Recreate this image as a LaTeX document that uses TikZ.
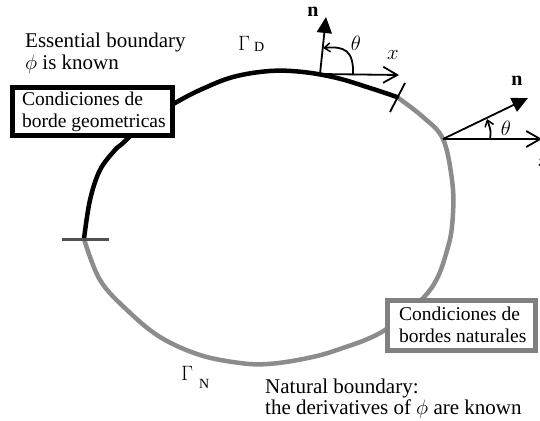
\documentclass[tikz,border=0pt]{standalone}
\usepackage{fontspec}
\setmainfont{Liberation Serif}
\newfontfamily\tnr{Liberation Serif}
\usetikzlibrary{arrows.meta}
\newcommand{\fsz}[1]{\tnr\fontsize{#1}{#1}\selectfont}
\begin{document}
\begin{tikzpicture}[x=1pt,y=-1pt,
  blackbd/.style={line width=4.5pt, black, line cap=round},
  graybd/.style={line width=4.5pt, color={rgb,255:red,140;green,140;blue,140}, line cap=round},
  thinline/.style={line width=1.8pt, black},
  filltip/.style={-{Triangle[width=15pt,length=16pt]}},
  opentip/.style={-{Straight Barb[length=14pt,width=16pt,line width=1.8pt]}},
  smalltip/.style={-{Straight Barb[length=6pt,width=9pt,line width=1.5pt]}},
  lbl/.style={inner sep=0pt, anchor=base west, font=\fsz{21}},
  sym/.style={inner sep=0pt, font=\fsz{20}},
  boxtxt/.style={inner sep=0pt, align=left, font=\tnr\fontsize{19.5}{22}\selectfont}
]
\useasboundingbox[fill=white] (0,0) rectangle (540,420);

% key points
\coordinate (pA) at (84,239);
\coordinate (pB) at (397,97);

% Neumann part (gray)
\draw[graybd] plot[smooth, tension=0.6] coordinates {(397,97) (423,117) (443,139) (452,180) (453,213) (448,247) (430,290) (385,330) (337,350) (303,359) (268,364) (240,363) (200,355) (160,337) (127,310) (100,280) (84,239)};
% Dirichlet part (black)
\draw[blackbd] plot[smooth, tension=0.6] coordinates {(84,239) (90,200) (100,170) (115,150) (123,143) (150,118) (175,103) (200,90) (233,77) (270,71) (303,72) (337,78) (370,88) (397,97)};

% ticks
\coordinate (tA1) at (62,239);
\coordinate (tA2) at (109,239);
\draw[line width=3pt, color={rgb,255:red,80;green,80;blue,80}] (tA1) -- (tA2);
\coordinate (tB1) at (390,112);
\coordinate (tB2) at (405,83);
\draw[thinline] (tB1) -- (tB2);

% top normal
\coordinate (o1) at (320,74);
\coordinate (n1) at (326,17);
\coordinate (x1) at (399,75);
\draw[thinline, filltip] (o1) -- (n1);
\draw[thinline, opentip] (o1) -- (x1);
\coordinate (t1a) at (353,75);
\coordinate (t1b) at (323,48);
\draw[thinline, smalltip] (t1a) .. controls (354,50) and (344,46) .. (t1b);
\node[sym, font=\bfseries\fsz{20}] (nlab1) at (313,12) {n};
\node[sym] (thlab1) at (356,43) {$\theta$};
\node[sym] (xlab1) at (393,55) {$x$};

% right normal
\coordinate (o2) at (443,139);
\coordinate (n2) at (528,98);
\coordinate (x2) at (542,139);
\draw[thinline, filltip] (o2) -- (n2);
\draw[thinline, opentip] (o2) -- (x2);
\coordinate (t2a) at (490,139);
\coordinate (t2b) at (487,119);
\draw[thinline, smalltip] (t2a) .. controls (491,131) .. (t2b);
\node[sym, font=\bfseries\fsz{20}] (nlab2) at (517,81) {n};
\node[sym] (thlab2) at (506,128) {$\theta$};
\node[sym] (xlab2) at (544,162) {$x$};

% boundary labels
\node[inner sep=0pt, anchor=base west, font=\fsz{20}] (gD) at (238,50) {$\Gamma$};
\node[inner sep=0pt, anchor=base west, font=\fsz{14}] (gDs) at (254,52) {D};
\node[inner sep=0pt, anchor=base west, font=\fsz{20}] (gN) at (181,380) {$\Gamma$};
\node[inner sep=0pt, anchor=base west, font=\fsz{14}] (gNs) at (199,388) {N};

% texts
\node[lbl] (ess1) at (25,48) {Essential boundary};
\node[lbl] (ess2) at (25,70) {$\phi$ is known};
\node[lbl] (nat1) at (265,393) {Natural boundary:};
\node[lbl] (nat2) at (265,414) {the derivatives of $\phi$ are known};

% boxes
\draw[line width=5pt, black, fill=white] (12.5,87.5) rectangle (172.5,135.5);
\node[boxtxt, anchor=base west] (box1) at (22,127) {Condiciones de\\borde geometricas};
\draw[line width=5pt, color={rgb,255:red,128;green,128;blue,128}, fill=white] (387.5,300.5) rectangle (535.5,350.5);
\node[boxtxt, anchor=base west] (box2) at (399,342) {Condiciones de\\bordes naturales};
\end{tikzpicture}
\end{document}
